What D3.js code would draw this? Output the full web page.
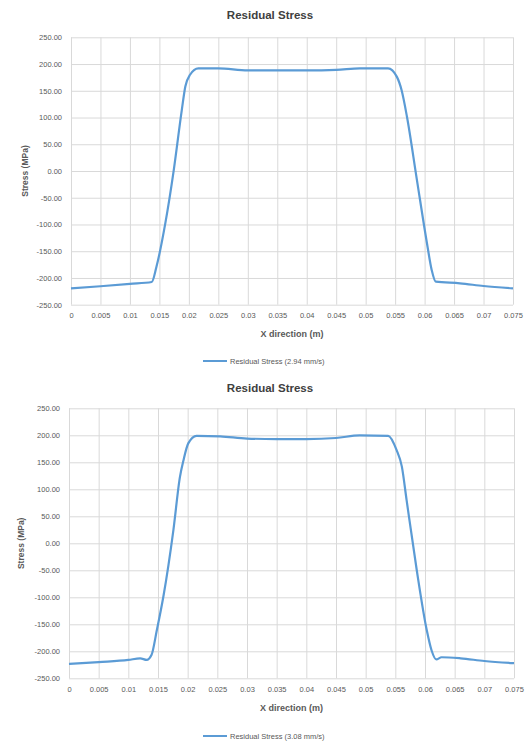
<!DOCTYPE html>
<html>
<head>
<meta charset="utf-8">
<script src="https://cdn.jsdelivr.net/npm/d3@7"></script>
<style>
  body { margin: 0; background: #fff; }
  text { font-family: "Liberation Sans", Arial, sans-serif; }
</style>
</head>
<body>
<div id="charts"></div>
<script>
/*Tick values shared by both charts*/
const xTicks = [0, 0.005, 0.01, 0.015, 0.02, 0.025, 0.03, 0.035, 0.04, 0.045, 0.05, 0.055, 0.06, 0.065, 0.07, 0.075];
const yTicks = [250, 200, 150, 100, 50, 0, -50, -100, -150, -200, -250];

/*Series: x position (m) and stress (MPa)*/
const xTop = [0, 0.005, 0.01, 0.0137, 0.0145, 0.016, 0.0174, 0.0188, 0.0194, 0.0202, 0.0216, 0.025, 0.03, 0.035, 0.04, 0.045, 0.049, 0.0538, 0.0553, 0.0561, 0.057, 0.0587, 0.0604, 0.0612, 0.0619, 0.066, 0.07, 0.075];
const stressTop = [-219.5, -215.5, -211, -207.5, -179, -98, -1, 114, 158, 180, 192, 192, 188, 188, 188, 189, 192, 192, 176, 151, 102, -17, -135, -185, -207, -210, -215, -219.5];

const xBottom = [0, 0.005, 0.01, 0.012, 0.0131, 0.0139, 0.0148, 0.0159, 0.0176, 0.0187, 0.0193, 0.0201, 0.0215, 0.0255, 0.03, 0.035, 0.04, 0.045, 0.049, 0.0538, 0.0552, 0.0561, 0.0569, 0.0586, 0.0603, 0.0611, 0.0619, 0.0628, 0.066, 0.07, 0.075];
const stressBottom = [-223.5, -220, -216, -213, -216, -207, -161, -99, 25, 123, 154, 185, 199, 198, 194, 193, 193, 195, 200, 199, 173, 142, 80, -49, -161, -198, -215, -211, -213, -218, -222];

const chartTitle = "Residual Stress";
const xTitle = "X direction (m)";
const yTitle = "Stress (MPa)";
const seriesNames = ["Residual Stress (2.94 mm/s)", "Residual Stress (3.08 mm/s)"];

const lineColor = "#5B9BD5";
const gridColor = "#D9D9D9";
const labelColor = "#595959";

const svg = d3.select("#charts")
       .append("svg")
       .attr("width", 526)
       .attr("height", 742);

/*Draw one chart panel*/
function drawChart(xs, ys, name, box) {
       const xScale = d3.scaleLinear().domain([0, 0.075]).range([box.left, box.right]);
       const yScale = d3.scaleLinear().domain([-250, 250]).range([box.bottom, box.top]);
       const g = svg.append("g");

       /*gridlines*/
       g.append("g")
              .attr("transform", "translate(0," + box.bottom + ")")
              .call(d3.axisBottom(xScale).tickValues(xTicks).tickSize(-(box.bottom - box.top)).tickFormat(""))
              .call(a => a.select(".domain").remove())
              .selectAll("line").attr("stroke", gridColor);
       g.append("g")
              .attr("transform", "translate(" + box.left + ",0)")
              .call(d3.axisLeft(yScale).tickValues(yTicks).tickSize(-(box.right - box.left)).tickFormat(""))
              .call(a => a.select(".domain").remove())
              .selectAll("line").attr("stroke", gridColor);

       /*tick labels*/
       const xAxis = g.append("g")
              .attr("transform", "translate(0," + box.bottom + ")")
              .call(d3.axisBottom(xScale).tickValues(xTicks).tickSize(0).tickPadding(8).tickFormat(d => String(d)));
       xAxis.select(".domain").remove();
       xAxis.selectAll("text").attr("fill", labelColor).style("font-size", "7.5px");

       const yAxis = g.append("g")
              .attr("transform", "translate(" + box.left + ",0)")
              .call(d3.axisLeft(yScale).tickValues(yTicks).tickSize(0).tickPadding(9).tickFormat(d => d.toFixed(2)));
       yAxis.select(".domain").remove();
       yAxis.selectAll("text").attr("fill", labelColor).style("font-size", "7.5px");

       /*series line, smoothed without overshoot*/
       const points = xs.map((x, i) => [x, ys[i]]);
       g.append("path")
              .datum(points)
              .attr("fill", "none")
              .attr("stroke", lineColor)
              .attr("stroke-width", 2.2)
              .attr("stroke-linejoin", "round")
              .attr("d", d3.line().x(d => xScale(d[0])).y(d => yScale(d[1])).curve(d3.curveMonotoneX));

       /*titles*/
       g.append("text")
              .text(chartTitle)
              .attr("x", 270)
              .attr("y", box.titleY + 4)
              .attr("text-anchor", "middle")
              .attr("fill", "#404040")
              .style("font-size", "11.5px")
              .style("font-weight", "bold");

       g.append("text")
              .text(xTitle)
              .attr("x", (box.left + box.right) / 2)
              .attr("y", box.xTitleY + 3)
              .attr("text-anchor", "middle")
              .attr("fill", labelColor)
              .style("font-size", "9px")
              .style("font-weight", "bold");

       g.append("text")
              .text(yTitle)
              .attr("transform", "translate(" + box.yTitleX + "," + (box.top + box.bottom) / 2 + ") rotate(-90)")
              .attr("text-anchor", "middle")
              .attr("fill", labelColor)
              .style("font-size", "8.5px")
              .style("font-weight", "bold");

       /*legend*/
       g.append("line")
              .attr("x1", box.legendX)
              .attr("x2", box.legendX + 24)
              .attr("y1", box.legendY)
              .attr("y2", box.legendY)
              .attr("stroke", lineColor)
              .attr("stroke-width", 2);
       g.append("text")
              .text(name)
              .attr("x", box.legendX + 27)
              .attr("y", box.legendY + 2.5)
              .attr("fill", labelColor)
              .style("font-size", "7.5px");
}

drawChart(xTop, stressTop, seriesNames[0],
       {left: 71, right: 513, top: 37.3, bottom: 304.7, titleY: 15, xTitleY: 334, yTitleX: 28, legendX: 203, legendY: 361});
drawChart(xBottom, stressBottom, seriesNames[1],
       {left: 69, right: 514, top: 408.3, bottom: 678.3, titleY: 388, xTitleY: 708, yTitleX: 24, legendX: 203, legendY: 736});
</script>
</body>
</html>
